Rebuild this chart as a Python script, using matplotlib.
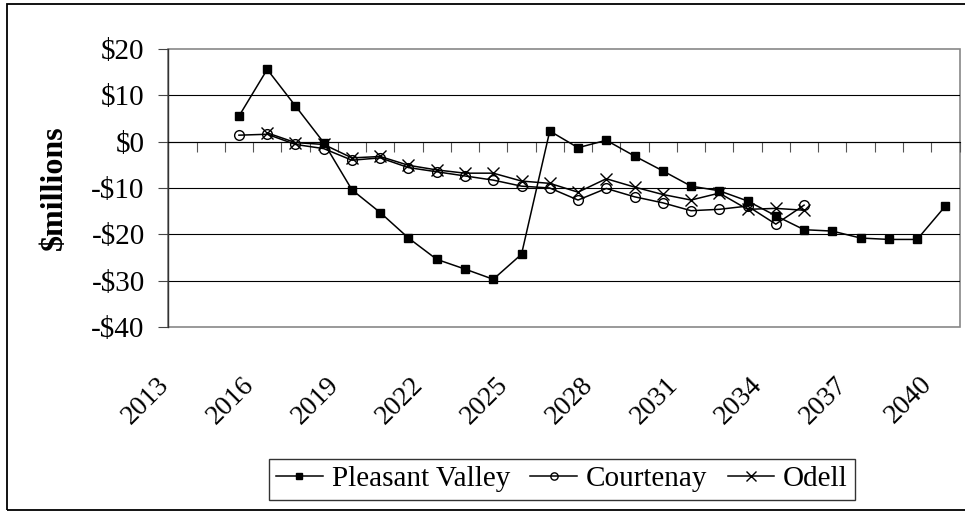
import numpy as np
import matplotlib
matplotlib.use('Agg')
import matplotlib.pyplot as plt
import matplotlib.transforms as mtrans
from matplotlib.patches import Rectangle
from matplotlib.ticker import FuncFormatter

plt.rcParams['font.family'] = ['Liberation Serif', 'DejaVu Serif']

# category axis 2013..2040
years = list(range(2013, 2041))
label_years = [2013, 2016, 2019, 2022, 2025, 2028, 2031, 2034, 2037, 2040]

pv_years = list(range(2015, 2041))
pleasant_valley = [5.5, 15.6, 7.7, -0.2, -10.4, -15.3, -20.8, -25.4, -27.5, -29.7,
                   -24.3, 2.3, -1.3, 0.3, -3.1, -6.3, -9.6, -10.6, -12.8, -16.0,
                   -19.0, -19.3, -20.8, -21.1, -21.1, -13.9]

ct_years = list(range(2015, 2036))
courtenay = [1.4, 1.6, -0.6, -1.5, -4.0, -3.5, -5.6, -6.5, -7.4, -8.3,
             -9.6, -10.0, -12.6, -10.1, -11.9, -13.2, -14.9, -14.6, -13.9, -17.8,
             -13.7]

od_years = list(range(2016, 2036))
odell = [1.9, -0.2, -0.6, -3.5, -3.2, -5.1, -6.1, -6.8, -6.8, -8.5,
         -9.0, -10.9, -8.0, -9.8, -11.4, -12.6, -11.1, -14.6, -14.4, -14.8]

yticks = [-40, -30, -20, -10, 0, 10, 20]

fig = plt.figure(figsize=(9.65, 5.12), dpi=100)
ax = fig.add_axes([168.3/965, 1-327/512, (959.5-168.3)/965, (327-49)/512])

# grid
for v in yticks[1:-1]:
    ax.axhline(v, color='black', lw=0.8, zorder=1)

ax.plot(pv_years, pleasant_valley, color='black', lw=1.1, marker='s', ms=6,
        mfc='black', mec='black', label='Pleasant Valley', zorder=3)
ax.plot(ct_years, courtenay, color='black', lw=1.1, marker='o', ms=7,
        mfc='none', mec='black', mew=1.0, label='Courtenay', zorder=3)
ax.plot(od_years, odell, color='black', lw=1.1, marker='x', ms=9,
        mec='black', mew=1.0, label='Odell', zorder=3)

ax.set_xlim(years[0]-0.5, years[-1]+0.5)
ax.set_ylim(-40, 20)

# x axis crosses at zero, ticks between categories
ax.spines['bottom'].set_position(('data', 0))
ax.spines['bottom'].set_color('black')
ax.spines['bottom'].set_linewidth(0.8)
ax.set_xticks([y + 0.5 for y in years])
ax.tick_params(axis='x', direction='out', length=7, width=0.8, color='#555555',
               labelbottom=False)

ax.spines['left'].set_color('#333333')
ax.spines['left'].set_linewidth(1.0)
ax.spines['top'].set_visible(False)
ax.spines['right'].set_visible(False)
ax.add_patch(Rectangle((0, 0), 1, 1, transform=ax.transAxes, fill=False,
                       ec='#888888', lw=1.2, zorder=0.5, clip_on=False))

ax.set_yticks(yticks)
ax.yaxis.set_major_formatter(FuncFormatter(lambda v, p: ('-$%d' % -v) if v < 0 else '$%d' % v))
ax.tick_params(axis='y', direction='out', length=7, width=0.8, color='#444444',
               labelsize=21, pad=10)
ax.set_ylabel('$millions', fontsize=23, fontweight='bold', labelpad=16)

# rotated category labels below the plot area
base = mtrans.blended_transform_factory(ax.transData, ax.transAxes)
off = mtrans.ScaledTranslation(-0.26, -0.45, fig.dpi_scale_trans)
for y in label_years:
    ax.text(y, 0, str(y), transform=base + off, rotation=45, ha='right', va='top',
            rotation_mode='anchor', fontsize=20)

leg = ax.legend(loc='center', bbox_to_anchor=(562/965, 1-479/512),
                bbox_transform=fig.transFigure, ncol=3, fontsize=21,
                frameon=True, fancybox=False, edgecolor='black', borderpad=0.25,
                handlelength=1.6, handletextpad=0.3, columnspacing=0.7,
                markerscale=0.75, borderaxespad=0)
leg.get_frame().set_linewidth(1.0)

fig.add_artist(Rectangle((7/965, 2/512), 1.0, 1-6/512, transform=fig.transFigure,
                         fill=False, ec='black', lw=1.3))

fig.savefig('out.png', dpi=100)
